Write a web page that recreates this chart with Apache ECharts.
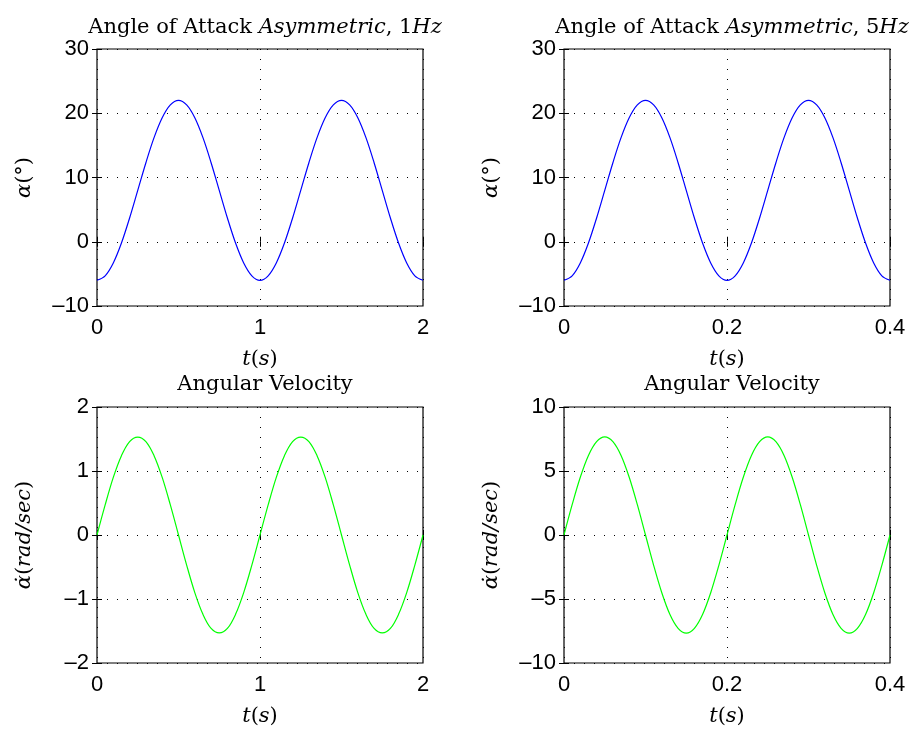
<!DOCTYPE html>
<html>
<head>
<meta charset="utf-8">
<script src="https://cdn.jsdelivr.net/npm/echarts@6/dist/echarts.min.js"></script>
<style>html,body{margin:0;padding:0;background:#fff;}#c{width:914px;height:729px;}</style>
</head>
<body>
<div id="c"></div>
<script>
// Time samples (s)
const t1Hz = [0,0.05,0.1,0.15,0.2,0.25,0.3,0.35,0.4,0.45,0.5,0.55,0.6,0.65,0.7,0.75,0.8,0.85,0.9,0.95,1,
  1.05,1.1,1.15,1.2,1.25,1.3,1.35,1.4,1.45,1.5,1.55,1.6,1.65,1.7,1.75,1.8,1.85,1.9,1.95,2];
const t5Hz = [0,0.01,0.02,0.03,0.04,0.05,0.06,0.07,0.08,0.09,0.1,0.11,0.12,0.13,0.14,0.15,0.16,0.17,0.18,0.19,0.2,
  0.21,0.22,0.23,0.24,0.25,0.26,0.27,0.28,0.29,0.3,0.31,0.32,0.33,0.34,0.35,0.36,0.37,0.38,0.39,0.4];
// Angle of attack (deg)
const alpha1Hz = [-6,-5.3,-3.3,-0.2,3.7,8,12.3,16.2,19.3,21.3,22,21.3,19.3,16.2,12.3,8,3.7,-0.2,-3.3,-5.3,-6,
  -5.3,-3.3,-0.2,3.7,8,12.3,16.2,19.3,21.3,22,21.3,19.3,16.2,12.3,8,3.7,-0.2,-3.3,-5.3,-6];
const alpha5Hz = [-6,-5.3,-3.3,-0.2,3.7,8,12.3,16.2,19.3,21.3,22,21.3,19.3,16.2,12.3,8,3.7,-0.2,-3.3,-5.3,-6,
  -5.3,-3.3,-0.2,3.7,8,12.3,16.2,19.3,21.3,22,21.3,19.3,16.2,12.3,8,3.7,-0.2,-3.3,-5.3,-6];
// Angular velocity (rad/sec)
const rate1Hz = [0,0.47,0.9,1.24,1.46,1.53,1.46,1.24,0.9,0.47,0,-0.47,-0.9,-1.24,-1.46,-1.53,-1.46,-1.24,-0.9,-0.47,0,
  0.47,0.9,1.24,1.46,1.53,1.46,1.24,0.9,0.47,0,-0.47,-0.9,-1.24,-1.46,-1.53,-1.46,-1.24,-0.9,-0.47,0];
const rate5Hz = [0,2.37,4.51,6.21,7.29,7.67,7.29,6.21,4.51,2.37,0,-2.37,-4.51,-6.21,-7.29,-7.67,-7.29,-6.21,-4.51,-2.37,0,
  2.37,4.51,6.21,7.29,7.67,7.29,6.21,4.51,2.37,0,-2.37,-4.51,-6.21,-7.29,-7.67,-7.29,-6.21,-4.51,-2.37,0];

const xRanges = [[0,2,1],[0,0.4,0.2],[0,2,1],[0,0.4,0.2]];
const yRanges = [[-10,30,10],[-10,30,10],[-2,2,1],[-10,10,5]];

const serif = 'DejaVu Serif';
const sans = 'Liberation Sans';
const rich = {
  u: {fontFamily: serif, fontSize: 21, fontWeight: 'normal', color: '#000'},
  i: {fontFamily: serif, fontSize: 21, fontWeight: 'normal', fontStyle: 'italic', color: '#000'}
};

const grids = [
  {left: 97, top: 49, width: 326, height: 257},
  {left: 564, top: 49, width: 326, height: 257},
  {left: 97, top: 407, width: 326, height: 256},
  {left: 564, top: 407, width: 326, height: 256}
].map(g => Object.assign(g, {show: true, borderColor: '#000', borderWidth: 1.2, backgroundColor: '#fff'}));

const dotted = {show: true, lineStyle: {color: '#000', width: 1, type: [1, 9]}};
const fmt = v => (v < 0 ? '\u2013' + Math.abs(v) : String(v));

const xAxes = [], yAxes = [];
const yNames = ['{i|α}{u|(°)}', '{i|α}{u|(°)}', '{i|α̇}{u|(}{i|rad/sec}{u|)}', '{i|α̇}{u|(}{i|rad/sec}{u|)}'];
for (let i = 0; i < 4; i++) {
  const [xmin, xmax, xint] = xRanges[i];
  const [ymin, ymax, yint] = yRanges[i];
  xAxes.push({
    type: 'value', gridIndex: i, min: xmin, max: xmax, interval: xint, position: 'bottom',
    axisLine: {show: false},
    axisTick: {show: true, inside: true, length: 5, lineStyle: {color: '#000'}},
    axisLabel: {color: '#000', fontFamily: sans, fontSize: 22, margin: 11},
    splitLine: dotted,
    name: '{i|t}{u|(}{i|s}{u|)}', nameLocation: 'middle', nameGap: 43,
    nameTextStyle: {rich: rich}
  });
  xAxes.push({
    type: 'value', gridIndex: i, min: xmin, max: xmax, interval: xint, position: 'top',
    axisLine: {show: false},
    axisTick: {show: true, inside: true, length: 5, lineStyle: {color: '#000'}},
    axisLabel: {show: false}, splitLine: {show: false}
  });
  yAxes.push({
    type: 'value', gridIndex: i, min: ymin, max: ymax, interval: yint, position: 'left',
    axisLine: {show: false},
    axisTick: {show: true, inside: true, length: 5, lineStyle: {color: '#000'}},
    axisLabel: {color: '#000', fontFamily: sans, fontSize: 22, margin: 8, formatter: fmt},
    splitLine: dotted,
    name: yNames[i], nameLocation: 'middle', nameRotate: 90, nameGap: 62,
    nameTextStyle: {rich: rich}
  });
  yAxes.push({
    type: 'value', gridIndex: i, min: ymin, max: ymax, interval: yint, position: 'right',
    axisLine: {show: false},
    axisTick: {show: true, inside: true, length: 5, lineStyle: {color: '#000'}},
    axisLabel: {show: false}, splitLine: {show: false}
  });
}

const pair = (xs, ys) => xs.map((x, k) => [x, ys[k]]);
const seriesData = [pair(t1Hz, alpha1Hz), pair(t5Hz, alpha5Hz), pair(t1Hz, rate1Hz), pair(t5Hz, rate5Hz)];
const colors = ['#0000ff', '#0000ff', '#00ff00', '#00ff00'];
const series = seriesData.map((d, i) => ({
  type: 'line', xAxisIndex: 2 * i, yAxisIndex: 2 * i, data: d, smooth: 0.35,
  showSymbol: false, symbol: 'none', lineStyle: {color: colors[i], width: 1.2}, z: 5
}));

const titles = [
  {text: '{u|Angle of Attack }{i|Asymmetric}{u|, 1}{i|Hz}', left: 260, top: 12},
  {text: '{u|Angle of Attack }{i|Asymmetric}{u|, 5}{i|Hz}', left: 727, top: 12},
  {text: '{u|Angular Velocity}', left: 260, top: 369},
  {text: '{u|Angular Velocity}', left: 727, top: 369}
].map(t => Object.assign(t, {textAlign: 'center', textStyle: {fontWeight: 'normal', rich: rich}}));

const chart = echarts.init(document.getElementById('c'), null, {renderer: 'canvas'});
chart.setOption({
  animation: false,
  backgroundColor: '#fff',
  title: titles,
  grid: grids,
  xAxis: xAxes,
  yAxis: yAxes,
  series: series
});
</script>
</body>
</html>
